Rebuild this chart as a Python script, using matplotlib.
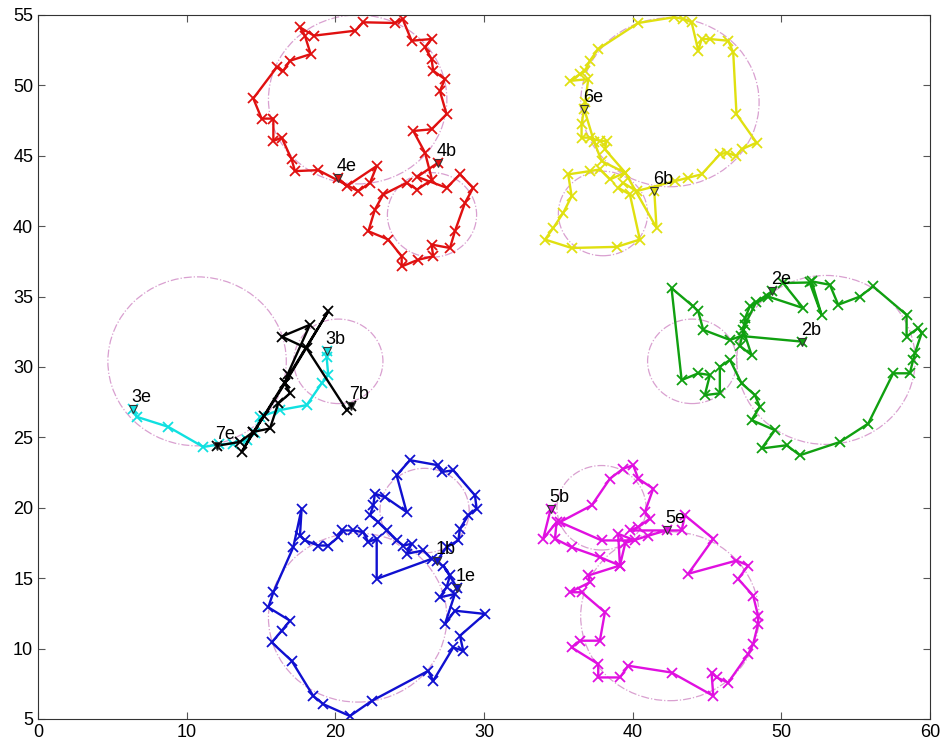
import matplotlib
matplotlib.use('Agg')
import matplotlib.pyplot as plt
from matplotlib.patches import Circle

# reference circles (dash-dot)
circle_x = [21.5, 26.5, 42.5, 38.0, 53.0, 44.0, 10.7, 20.2, 21.5, 26.0, 42.5, 37.9]
circle_y = [49.0, 40.8, 48.8, 40.9, 30.5, 30.4, 30.4, 30.4, 12.2, 19.8, 12.3, 20.0]
circle_r = [6, 3, 6, 3, 6, 3, 6, 3, 6, 3, 6, 3]

# track 1 (blue)
t1_x = [26.81, 27.48, 28.27, 28.38, 28.94, 29.5, 29.39, 27.93, 27.15, 26.92, 25.02, 24.12,
        24.79, 23.34, 22.66, 22.55, 22.33, 22.89, 23.45, 24.12, 24.57, 25.13, 24.79, 25.91,
        26.47, 22.78, 22.78, 22.21, 21.88, 21.2, 20.42, 20.2, 19.52, 18.85, 17.96, 17.62,
        17.73, 17.17, 15.83, 15.49, 16.95, 16.39, 15.72, 17.06, 18.51, 19.19, 20.98, 22.44,
        26.25, 26.58, 27.93, 28.6, 28.38, 30.06, 28.04, 27.37, 28.04, 27.03, 27.48, 27.71,
        27.26, 28.2]
t1_y = [16.2, 17.2, 17.68, 18.51, 19.46, 19.94, 20.88, 22.66, 22.54, 23.02, 23.38, 22.31,
        19.7, 20.76, 21.0, 20.17, 19.46, 18.98, 18.39, 17.68, 17.32, 17.44, 16.73, 16.97,
        16.37, 14.95, 17.8, 17.56, 18.27, 18.39, 18.39, 17.92, 17.32, 17.32, 17.68, 18.03,
        19.94, 17.2, 14.0, 12.93, 11.98, 11.27, 10.44, 9.13, 6.64, 6.05, 5.21, 6.28,
        8.42, 7.71, 10.08, 9.84, 10.91, 12.46, 12.69, 11.74, 13.88, 13.64, 14.35, 15.19,
        15.9, 14.3]

# track 2 (green)
t2_x = [51.4, 47.3, 46.54, 44.74, 44.41, 44.07, 42.61, 43.29, 44.41, 45.19, 44.85, 45.86,
        45.86, 46.54, 47.32, 48.22, 48.55, 47.99, 49.56, 48.67, 50.35, 51.24, 53.93, 55.84,
        57.52, 58.64, 58.86, 58.98, 59.43, 59.2, 58.42, 58.42, 56.17, 55.28, 53.82, 53.26,
        52.03, 52.7, 51.9, 50.12, 51.47, 49.11, 47.88, 47.55, 47.43, 47.99, 47.2, 47.55,
        48.3, 49.4]
t2_y = [31.8, 32.2, 31.92, 32.64, 33.94, 34.3, 35.6, 29.07, 29.55, 29.43, 28.0, 28.13,
        30.02, 30.5, 28.84, 28.0, 27.17, 26.23, 25.51, 24.21, 24.44, 23.73, 24.67, 25.98,
        29.55, 29.55, 30.5, 30.98, 32.4, 32.76, 32.16, 33.7, 35.72, 35.0, 34.42, 35.84,
        36.08, 33.7, 36.0, 35.96, 34.18, 35.0, 34.3, 33.47, 32.64, 30.85, 31.5, 33.0,
        34.6, 35.4]

# track 3 (cyan)
t3_x = [19.41, 19.41, 19.52, 19.08, 18.07, 16.27, 14.93, 14.59, 14.03, 13.13, 12.2, 11.12,
        8.76, 6.64, 6.41]
t3_y = [31.1, 30.73, 29.43, 28.84, 27.29, 26.94, 26.46, 25.28, 24.8, 24.56, 24.5, 24.32,
        25.75, 26.46, 27.0]

# track 4 (red)
t4_x = [26.9, 25.5, 27.48, 28.38, 29.27, 28.72, 28.04, 27.71, 26.47, 26.58, 25.58, 24.46,
        24.46, 23.56, 22.22, 22.66, 23.22, 24.79, 25.5, 26.5, 26.03, 25.24, 26.47, 27.48,
        27.03, 27.37, 26.58, 26.47, 26.03, 26.47, 25.13, 24.52, 24.0, 21.88, 21.32, 18.56,
        17.62, 17.95, 18.34, 16.95, 16.5, 16.05, 14.48, 15.04, 15.83, 15.83, 16.39, 17.06,
        17.28, 18.85, 21.54, 22.33, 22.78, 20.76, 20.2]
t4_y = [44.5, 43.5, 42.73, 43.67, 42.73, 41.66, 39.64, 38.45, 38.69, 37.86, 37.62, 37.14,
        37.86, 39.05, 39.64, 41.18, 42.25, 43.08, 42.6, 43.3, 45.22, 46.76, 46.88, 47.95,
        49.6, 50.44, 51.04, 51.87, 52.7, 53.29, 53.17, 54.72, 54.43, 54.48, 53.88, 53.53,
        54.12, 53.53, 52.22, 51.75, 51.04, 51.27, 49.07, 47.64, 47.64, 46.05, 46.29, 44.74,
        43.91, 43.98, 42.49, 43.08, 44.27, 42.84, 43.4]

# track 5 (magenta)
t5_x = [34.48, 33.98, 34.88, 34.77, 35.89, 37.79, 39.14, 39.02, 40.15, 37.91, 35.1, 37.24,
        38.47, 39.36, 40.03, 40.37, 41.38, 40.82, 41.16, 40.37, 39.81, 43.29, 43.51, 45.42,
        43.73, 46.98, 47.77, 47.09, 48.1, 48.43, 48.43, 48.1, 47.77, 46.42, 45.64, 45.3,
        45.42, 42.61, 39.7, 39.14, 37.68, 37.68, 35.89, 36.45, 37.79, 38.13, 36.56, 35.78,
        37.12, 37.01, 39.14, 39.5, 41.0, 42.28]
t5_y = [19.9, 17.8, 18.98, 17.8, 17.2, 16.49, 15.9, 18.15, 17.68, 17.68, 18.98, 20.17,
        22.07, 22.78, 23.02, 22.07, 21.36, 19.7, 19.23, 18.63, 18.39, 18.39, 19.46, 17.8,
        15.31, 16.25, 15.9, 14.95, 13.76, 12.34, 11.74, 10.32, 9.61, 7.59, 7.95, 8.3,
        6.64, 8.3, 8.78, 7.95, 7.95, 8.9, 10.08, 10.56, 10.56, 12.58, 14.0, 14.0,
        14.71, 15.19, 15.9, 17.5, 18.0, 18.4]

# track 6 (yellow)
t6_x = [41.45, 41.6, 39.5, 38.13, 38.24, 37.79, 37.12, 36.56, 36.56, 36.8, 37.01, 35.78,
        36.45, 36.79, 37.12, 37.68, 40.37, 42.77, 43.4, 43.96, 44.41, 44.63, 45.19, 46.42,
        46.76, 46.98, 48.33, 47.32, 46.98, 46.31, 45.86, 44.63, 43.73, 42.84, 40.26, 39.36,
        39.02, 39.81, 40.48, 38.92, 35.89, 34.1, 34.66, 35.33, 35.89, 35.66, 37.12, 37.79,
        38.47, 39.48, 37.91, 37.4, 36.74]
t6_y = [42.5, 39.88, 43.8, 45.46, 46.05, 46.05, 46.29, 46.29, 47.24, 48.8, 50.44, 50.32,
        50.8, 51.04, 51.75, 52.58, 54.43, 54.84, 54.72, 54.48, 52.46, 53.29, 53.29, 53.17,
        52.34, 47.95, 45.93, 45.46, 44.98, 45.22, 45.1, 43.68, 43.44, 43.2, 42.49, 43.08,
        42.73, 42.25, 39.05, 38.53, 38.45, 39.05, 39.88, 40.95, 42.13, 43.68, 43.91, 44.03,
        43.32, 43.8, 44.62, 46.0, 48.3]

# track 7 (black)
t7_x = [21.03, 20.76, 18.07, 16.39, 18.29, 16.8, 16.61, 19.52, 13.7, 14.48, 15.6, 16.16,
        16.95, 16.61, 15.2, 14.48, 13.58, 12.02]
t7_y = [27.2, 26.94, 31.33, 32.16, 33.0, 29.5, 28.84, 33.94, 23.97, 25.39, 25.63, 27.41,
        28.13, 28.84, 26.5, 25.39, 24.68, 24.4]

tracks = [(t1_x, t1_y, '#1010d0', '1'), (t2_x, t2_y, '#10a010', '2'),
          (t3_x, t3_y, '#10e0e0', '3'), (t4_x, t4_y, '#e01010', '4'),
          (t5_x, t5_y, '#e010e0', '5'), (t6_x, t6_y, '#e0e010', '6'),
          (t7_x, t7_y, '#000000', '7')]

plt.rcParams['font.family'] = ['Liberation Sans', 'DejaVu Sans']

fig = plt.figure(figsize=(9.43, 7.48), dpi=100)
ax = fig.add_axes([0.0403, 0.0388, 0.946, 0.9412])

for cx, cy, r in zip(circle_x, circle_y, circle_r):
    ax.add_patch(Circle((cx, cy), r, fill=False, linestyle='-.', color='#d9a0d0',
                        linewidth=0.9, zorder=1))

for xs, ys, col, name in tracks:
    ax.plot(xs, ys, '-', color=col, linewidth=1.7, marker='x', markersize=7,
            markeredgewidth=1.3, zorder=2)
    # begin / end markers
    for (px, py), tag in [((xs[0], ys[0]), 'b'), ((xs[-1], ys[-1]), 'e')]:
        ax.plot(px, py, marker='v', markersize=6, markerfacecolor=col,
                markeredgecolor='#333333', markeredgewidth=0.8, linestyle='none', zorder=3)
        ax.text(px - 0.1, py + 0.5, name + tag, fontsize=13, ha='left', va='baseline',
                color='black', zorder=4)

ax.set_xlim(0, 60)
ax.set_ylim(5, 55)
ax.set_xticks(range(0, 61, 10))
ax.set_yticks(range(5, 56, 5))
ax.tick_params(direction='in', length=5, labelsize=13, top=True, right=True,
               color='#555555')
for s in ax.spines.values():
    s.set_color('#333333')

fig.savefig('out.png', dpi=100)
